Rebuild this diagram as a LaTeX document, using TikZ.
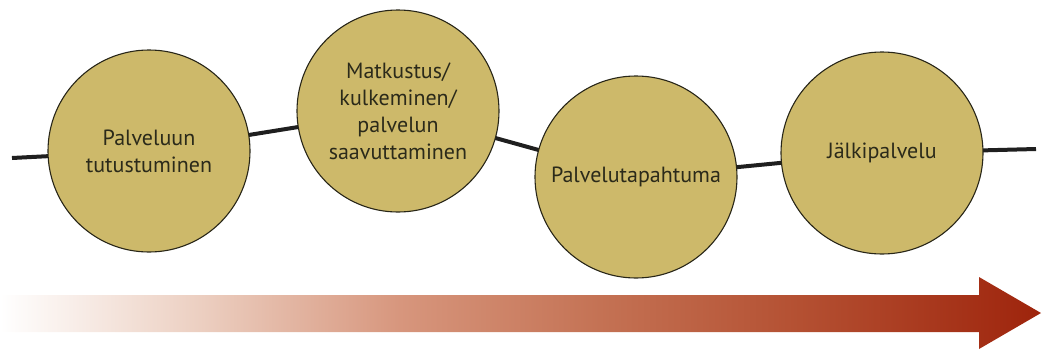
\documentclass[tikz,border=0pt]{standalone}
\usepackage{fontspec}
\setmainfont{PT Sans}
\usetikzlibrary{shadings}
\definecolor{disc}{RGB}{205,185,106}
\definecolor{rim}{RGB}{40,38,24}
\definecolor{ink}{RGB}{43,42,26}
\definecolor{fadeA}{RGB}{236,207,193}
\definecolor{fadeB}{RGB}{215,150,125}
\definecolor{fadeC}{RGB}{196,114,84}
\definecolor{fadeD}{RGB}{180,80,50}
\definecolor{fadeE}{RGB}{158,36,12}
% white on the left, deepening to brick red on the right
\pgfdeclarehorizontalshading{timefade}{100bp}{%
  color(0bp)=(white); color(25bp)=(white); color(34.6bp)=(fadeA);
  color(44.2bp)=(fadeB); color(53.8bp)=(fadeC); color(63.4bp)=(fadeD);
  color(75bp)=(fadeE); color(100bp)=(fadeE)}
\begin{document}
\begin{tikzpicture}[x=1pt,y=-1pt,
  phase/.style={circle,draw=rim,line width=1.1pt,fill=disc,minimum size=202pt,inner sep=0pt,
    text=ink,font=\fontsize{22}{27}\selectfont,align=center},
  link/.style={line width=4pt,draw=black!88}]
\useasboundingbox (0,0) rectangle (1045,349);
% timeline running through the phases
\coordinate (start) at (12,158);
\coordinate (finish) at (1036,149);
\path (149,151) coordinate (p1) (398,111) coordinate (p2)
      (636,177) coordinate (p3) (882,153) coordinate (p4);
\draw[link] (start) -- (p1) -- (p2) -- (p3) -- (p4) -- (finish);
% phases
\node[phase] (c1) at (p1) {Palveluun\\tutustuminen};
\node[phase] (c2) at (p2) {Matkustus/\\kulkeminen/\\palvelun\\saavuttaminen};
\node[phase] (c3) at (p3) {\raisebox{-5pt}{Palvelutapahtuma}};
\node[phase] (c4) at (p4) {Jälkipalvelu};
% time arrow
\shade[shading=timefade]
  (0,295) -- (979,295) -- (979,277) -- (1041,313) -- (979,349) -- (979,332) -- (0,332) -- cycle;
\end{tikzpicture}
\end{document}
